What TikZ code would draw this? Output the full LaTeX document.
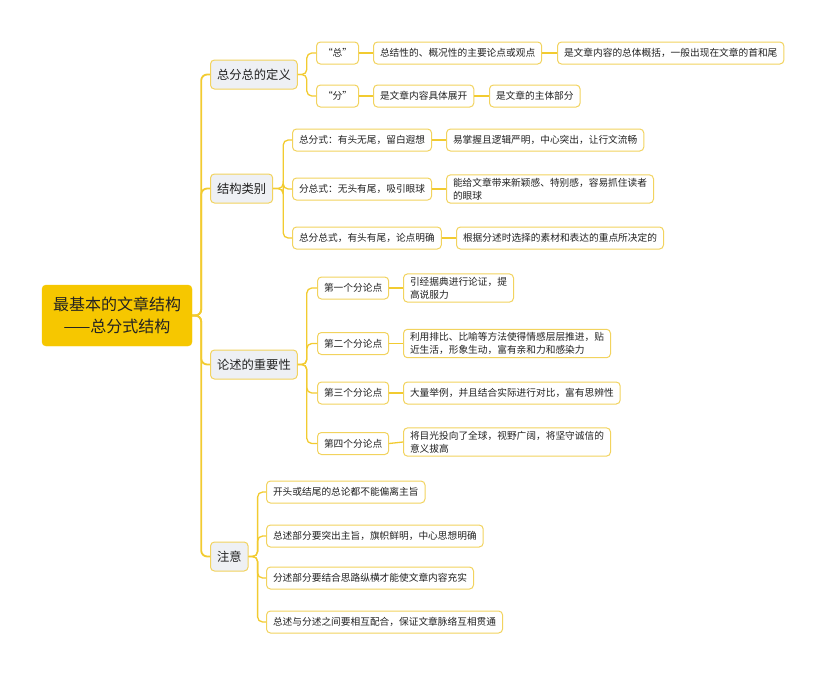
\documentclass[tikz,border=0pt]{standalone}
\usepackage{fontspec}
\setmainfont{Noto Sans CJK SC}
\definecolor{rootfill}{HTML}{F6C700}
\definecolor{linec}{HTML}{F2CB30}
\definecolor{bordc}{HTML}{F2D35E}
\definecolor{l1fill}{HTML}{EEF0F4}
\definecolor{txt}{HTML}{222222}
\tikzset{
  rootbox/.style={fill=rootfill, draw=rootfill, rounded corners=4pt, align=center,
    font=\fontsize{16}{22}\selectfont, text=txt, minimum width=150pt, minimum height=61pt, inner sep=0pt},
  topicbox/.style={fill=l1fill, draw=bordc, line width=1pt, rounded corners=4pt, anchor=west,
    font=\fontsize{12.3}{15}\selectfont, text=txt, minimum height=29pt, inner xsep=6.5pt, inner ysep=0pt},
  leafbox/.style={fill=white, draw=bordc, line width=1pt, rounded corners=4pt, anchor=west, align=left,
    font=\fontsize{9.7}{13.2}\selectfont, text=txt, minimum height=22pt, inner xsep=6.5pt, inner ysep=3pt},
  trunk/.style={draw=linec, line width=1.8pt, rounded corners=6pt},
  branch/.style={draw=linec, line width=1.3pt, rounded corners=5pt},
}
\begin{document}
\begin{tikzpicture}[x=1pt,y=-1pt]
\useasboundingbox (0,0) rectangle (835,675);
% root
\node[rootbox] (root) at (117,315.5) {最基本的文章结构\\——总分式结构};
% level 1
\node[topicbox] (t1) at (210,74.5) {总分总的定义};
\node[topicbox] (t2) at (210,188.5) {结构类别};
\node[topicbox] (t3) at (210,364.5) {论述的重要性};
\node[topicbox] (t4) at (210,556.5) {注意};
% t1 children
\node[leafbox] (a1) at (316,53) {“总”};
\node[leafbox] (a2) at (316,96) {“分”};
\node[leafbox] (a1b) at (373,53) {总结性的、概况性的主要论点或观点};
\node[leafbox] (a1c) at (557,53) {是文章内容的总体概括，一般出现在文章的首和尾};
\node[leafbox] (a2b) at (373,96) {是文章内容具体展开};
\node[leafbox] (a2c) at (489,96) {是文章的主体部分};
% t2 children
\node[leafbox] (b1) at (292,140) {总分式：有头无尾，留白遐想};
\node[leafbox] (b2) at (292,189) {分总式：无头有尾，吸引眼球};
\node[leafbox] (b3) at (292,238) {总分总式，有头有尾，论点明确};
\node[leafbox] (b1b) at (446,140) {易掌握且逻辑严明，中心突出，让行文流畅};
\node[leafbox] (b2b) at (446,189) {能给文章带来新颖感、特别感，容易抓住读者\\的眼球};
\node[leafbox] (b3b) at (456,238) {根据分述时选择的素材和表达的重点所决定的};
% t3 children
\node[leafbox] (c1) at (317,288) {第一个分论点};
\node[leafbox] (c2) at (317,343.5) {第二个分论点};
\node[leafbox] (c3) at (317,393) {第三个分论点};
\node[leafbox] (c4) at (317,443.5) {第四个分论点};
\node[leafbox] (c1b) at (403,288) {引经据典进行论证，提\\高说服力};
\node[leafbox] (c2b) at (403,343.5) {利用排比、比喻等方法使得情感层层推进，贴\\近生活，形象生动，富有亲和力和感染力};
\node[leafbox] (c3b) at (403,393) {大量举例，并且结合实际进行对比，富有思辨性};
\node[leafbox] (c4b) at (403,442) {将目光投向了全球，视野广阔，将坚守诚信的\\意义拔高};
% t4 children
\node[leafbox] (d1) at (266,492) {开头或结尾的总论都不能偏离主旨};
\node[leafbox] (d2) at (266,536) {总述部分要突出主旨，旗帜鲜明，中心思想明确};
\node[leafbox] (d3) at (266,578) {分述部分要结合思路纵横才能使文章内容充实};
\node[leafbox] (d4) at (266,622) {总述与分述之间要相互配合，保证文章脉络互相贯通};
% connectors: trunk
\foreach \t in {t1,t2,t3,t4} \draw[trunk] (root.east) -- ++(9,0) |- (\t.west);
% t1
\foreach \c in {a1,a2} \draw[branch] (t1.east) -- ++(9,0) |- (\c.west);
\draw[branch] (a1.east) -- (a1b.west);
\draw[branch] (a1b.east) -- (a1c.west);
\draw[branch] (a2.east) -- (a2b.west);
\draw[branch] (a2b.east) -- (a2c.west);
% t2
\foreach \c in {b1,b2,b3} \draw[branch] (t2.east) -- ++(10,0) |- (\c.west);
\draw[branch] (b1.east) -- (b1b.west);
\draw[branch] (b2.east) -- (b2b.west);
\draw[branch] (b3.east) -- (b3b.west);
% t3
\foreach \c in {c1,c2,c3,c4} \draw[branch] (t3.east) -- ++(9,0) |- (\c.west);
\draw[branch] (c1.east) -- (c1b.west);
\draw[branch] (c2.east) -- (c2b.west);
\draw[branch] (c3.east) -- (c3b.west);
\draw[branch] (c4.east) -- (c4b.west);
% t4
\foreach \c in {d1,d2,d3,d4} \draw[branch] (t4.east) -- ++(9,0) |- (\c.west);
\end{tikzpicture}
\end{document}
